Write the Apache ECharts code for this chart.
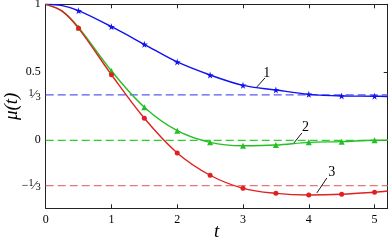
<!DOCTYPE html>
<html><head><meta charset="utf-8">
<script src="https://cdn.jsdelivr.net/npm/echarts@6/dist/echarts.min.js"></script>
<style>html,body{margin:0;padding:0;background:#fff}#c{width:389px;height:245px}</style>
</head><body><div id="c"></div>
<script>
var tValues = [0, 0.25, 0.5, 1, 1.5, 2, 2.5, 3, 3.5, 4, 4.5, 5, 5.2];
var curve1 = [1, 0.99, 0.953, 0.835, 0.706, 0.576, 0.48, 0.404, 0.37, 0.338, 0.326, 0.324, 0.322];
var curve2 = [1, 0.95, 0.83, 0.51, 0.243, 0.071, -0.015, -0.04, -0.035, -0.015, -0.01, 0.0, 0.0];
var curve3 = [1, 0.95, 0.823, 0.482, 0.162, -0.093, -0.257, -0.353, -0.39, -0.402, -0.397, -0.382, -0.373];
var limits = [1/3, 0, -1/3];
var yTickValues = [1, 0.5, 1/3, 0, -1/3];
var yTickLabels = ['1', '0.5', '{n|1}{s|⁄}{d|3}', '0', '{m|−}{n|1}{s|⁄}{d|3}'];
var curveLabels = ['1', '2', '3'];
var labelPos = [[3.36, 0.49], [3.95, 0.095], [4.35, -0.235]];
var arrowStarts = [[3.333, 0.458], [3.895, 0.054], [4.275, -0.277]];
var arrowEnds = [[3.21, 0.392], [3.773, -0.02], [4.123, -0.387]];

var starPath = 'path://M50,0 L61,35 L98,35 L68,57 L79,91 L50,70 L21,91 L32,57 L2,35 L39,35 Z';
var colors = ['#1010f0', '#22c022', '#e02020'];
var dashColors = ['#5a5af5', '#33cc33', '#e87878'];
var symbols = [starPath, 'triangle', 'circle'];
var symSizes = [7, 6, 5];
var curves = [curve1, curve2, curve3];
var serif = 'Liberation Serif, DejaVu Serif, serif';

function mk(vals, sym, size) {
  return tValues.map(function (t, i) {
    var show = (t >= 0.5 && t <= 5 && Math.abs(t * 2 - Math.round(t * 2)) < 1e-6);
    return { value: [t, vals[i]], symbol: show ? sym : 'none', symbolSize: size };
  });
}

var series = [];
limits.forEach(function (v, i) {
  series.push({
    type: 'line', data: [[0, v], [5.2, v]], symbol: 'none', silent: true, z: 1,
    lineStyle: { color: dashColors[i], width: 1.3, type: [8, 4] }
  });
});
curves.forEach(function (c, i) {
  series.push({
    type: 'line', data: mk(c, symbols[i], symSizes[i]), smooth: 0.35, z: 3,
    lineStyle: { color: colors[i], width: 1.4 }, itemStyle: { color: colors[i] },
    showSymbol: true
  });
});
series.push({
  type: 'line', data: [], z: 4,
  markLine: {
    silent: true, symbol: ['none', 'arrow'], symbolSize: [0, 7], animation: false,
    lineStyle: { color: '#000', width: 0.9, type: 'solid' },
    label: { show: false },
    data: arrowStarts.map(function (s, i) {
      return [{ coord: s }, { coord: arrowEnds[i] }];
    })
  },
  markPoint: {
    silent: true, symbol: 'circle', symbolSize: 0, animation: false,
    label: { show: true, position: 'inside', fontFamily: serif, fontSize: 14, color: '#000' },
    data: labelPos.map(function (p, i) {
      return { coord: p, label: { formatter: curveLabels[i] } };
    })
  }
});

var axisLineStyle = { show: true, onZero: false, lineStyle: { color: '#222', width: 1 } };
var chart = echarts.init(document.getElementById('c'));
chart.setOption({
  animation: false,
  grid: { left: 45.7, right: 1.3, top: 4.3, bottom: 36.7, containLabel: false, outerBoundsMode: 'none' },
  xAxis: [{
    type: 'value', min: 0, max: 5.2, interval: 1, position: 'bottom',
    name: 't', nameLocation: 'middle', nameGap: 14, nameMoveOverlap: false,
    nameTextStyle: { fontFamily: serif, fontStyle: 'italic', fontSize: 19, color: '#000' },
    axisLine: axisLineStyle,
    axisTick: { show: true, inside: true, length: 4, lineStyle: { color: '#222' } },
    axisLabel: { fontFamily: serif, fontSize: 12, color: '#000', margin: 6,
      formatter: function (v) { return Math.abs(v - Math.round(v)) < 1e-6 ? String(Math.round(v)) : ''; } },
    splitLine: { show: false }
  }, {
    type: 'value', min: 0, max: 5.2, interval: 1, position: 'top',
    axisLine: axisLineStyle,
    axisTick: { show: true, inside: true, length: 4, lineStyle: { color: '#222' } },
    axisLabel: { show: false }, splitLine: { show: false }
  }],
  yAxis: [{
    type: 'value', min: -0.5, max: 1, interval: 1/6, position: 'left',
    name: 'μ(t)', nameLocation: 'middle', nameGap: 24, nameRotate: 90, nameMoveOverlap: false,
    nameTextStyle: { fontFamily: serif, fontStyle: 'italic', fontSize: 19, color: '#000' },
    axisLine: axisLineStyle,
    axisTick: { show: false },
    axisLabel: { fontFamily: serif, fontSize: 12, color: '#000', margin: 5,
      rich: {
        n: { fontFamily: serif, fontSize: 10, color: '#000', verticalAlign: 'top', lineHeight: 14, padding: [0, 0, 4, 0] },
        s: { fontFamily: serif, fontSize: 13, color: '#000', lineHeight: 14 },
        d: { fontFamily: serif, fontSize: 10, color: '#000', verticalAlign: 'bottom', lineHeight: 14, padding: [4, 0, 0, 0] },
        m: { fontFamily: serif, fontSize: 12, color: '#000', lineHeight: 14 }
      },
      formatter: function (v) {
        for (var i = 0; i < yTickValues.length; i++) {
          if (Math.abs(v - yTickValues[i]) < 1e-6) return yTickLabels[i];
        }
        return '';
      } },
    splitLine: { show: false }
  }, {
    type: 'value', min: -0.5, max: 1, interval: 0.5, position: 'right',
    axisLine: axisLineStyle,
    axisTick: { show: true, inside: true, length: 4, lineStyle: { color: '#222' } },
    axisLabel: { show: false }, splitLine: { show: false }
  }],
  series: series
});
</script></body></html>
